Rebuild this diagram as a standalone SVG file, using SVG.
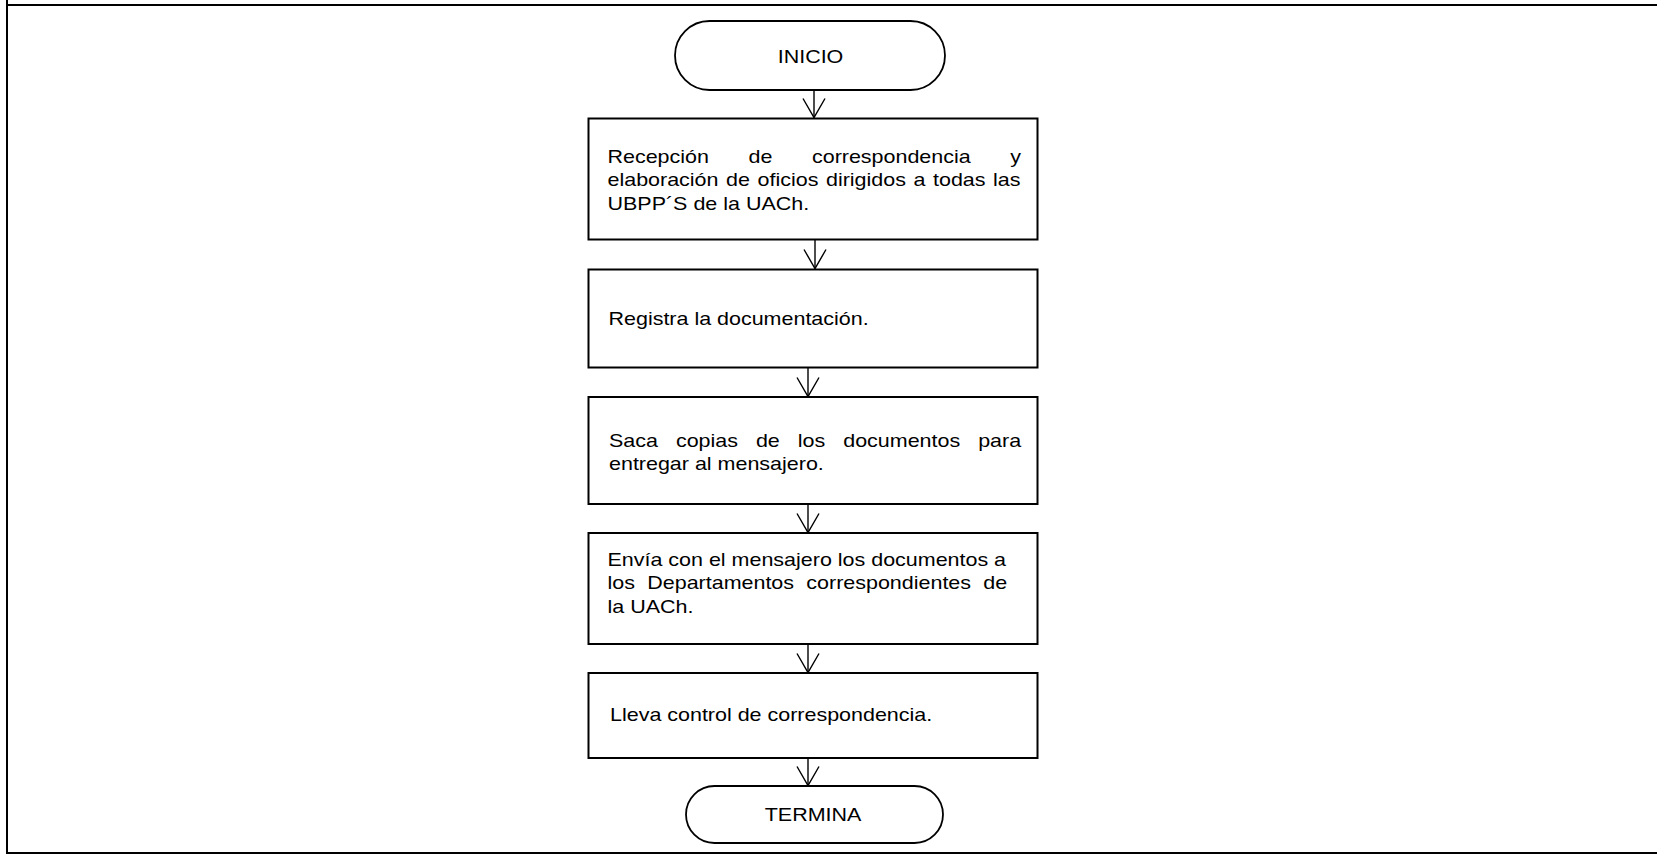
<svg xmlns="http://www.w3.org/2000/svg" width="1657" height="854" viewBox="0 0 1657 854">
  <style>
    .frame { stroke: #000; stroke-width: 2; fill: none; }
    .box { fill: #fff; stroke: #000; stroke-width: 2; }
    .term { fill: #fff; stroke: #000; stroke-width: 1.8; }
    .flow { stroke: #000; stroke-width: 1.4; fill: none; }
    .lbl { font-family: "Liberation Sans", Arial, sans-serif; font-size: 18.6px; fill: #000; }
  </style>
  <defs>
    <!-- open V arrowhead, drawn pointing along +x -->
    <marker id="vhead" markerUnits="userSpaceOnUse" viewBox="-21 -13 22 26" refX="0" refY="0" markerWidth="22" markerHeight="26" orient="auto">
      <path d="M -19 -11 L 0 0 L -19 11" fill="none" stroke="#000" stroke-width="1.4"/>
    </marker>
  </defs>

  <rect width="1657" height="854" fill="#fff"/>

  <!-- page frame -->
  <g id="frame">
    <line class="frame" x1="7" y1="0" x2="7" y2="854"/>
    <line class="frame" x1="6" y1="5" x2="1657" y2="5"/>
    <line class="frame" x1="6" y1="853" x2="1657" y2="853"/>
  </g>

  <!-- connectors -->
  <g id="connectors">
    <line class="flow" x1="814" y1="90" x2="814" y2="117.5" marker-end="url(#vhead)"/>
    <line class="flow" x1="815" y1="240" x2="815" y2="268.5" marker-end="url(#vhead)"/>
    <line class="flow" x1="808" y1="367" x2="808" y2="396.5" marker-end="url(#vhead)"/>
    <line class="flow" x1="808" y1="504" x2="808" y2="532.5" marker-end="url(#vhead)"/>
    <line class="flow" x1="808" y1="644" x2="808" y2="672.5" marker-end="url(#vhead)"/>
    <line class="flow" x1="808" y1="758" x2="808" y2="785.5" marker-end="url(#vhead)"/>
  </g>

  <g id="inicio">
    <rect class="term" x="675" y="21" width="270" height="69" rx="34.5" ry="34.5"/>
    <text class="lbl" text-anchor="middle" transform="translate(810.5,63.3) scale(1.155,1)">INICIO</text>
  </g>

  <g id="recepcion">
    <rect class="box" x="588.5" y="118.5" width="449" height="121"/>
    <text class="lbl" transform="translate(607.5,163) scale(1.155,1)">
      <tspan x="0" y="0" word-spacing="29.1">Recepción de correspondencia y</tspan>
      <tspan x="0" y="23.5" word-spacing="1.4">elaboración de oficios dirigidos a todas las</tspan>
      <tspan x="0" y="47">UBPP´S de la UACh.</tspan>
    </text>
  </g>

  <g id="registro">
    <rect class="box" x="588.5" y="269.5" width="449" height="98"/>
    <text class="lbl" transform="translate(608.5,325) scale(1.155,1)">Registra la documentación.</text>
  </g>

  <g id="copias">
    <rect class="box" x="588.5" y="397" width="449" height="107"/>
    <text class="lbl" transform="translate(609,447) scale(1.155,1)">
      <tspan x="0" y="0" word-spacing="10.4">Saca copias de los documentos para</tspan>
      <tspan x="0" y="23">entregar al mensajero.</tspan>
    </text>
  </g>

  <g id="envio">
    <rect class="box" x="588.5" y="533" width="449" height="111"/>
    <text class="lbl" transform="translate(607.5,566) scale(1.155,1)">
      <tspan x="0" y="0">Envía con el mensajero los documentos a</tspan>
      <tspan x="0" y="23.5" word-spacing="5.5">los Departamentos correspondientes de</tspan>
      <tspan x="0" y="47">la UACh.</tspan>
    </text>
  </g>

  <g id="control">
    <rect class="box" x="588.5" y="673" width="449" height="85"/>
    <text class="lbl" transform="translate(610,721) scale(1.155,1)">Lleva control de correspondencia.</text>
  </g>

  <g id="termina">
    <rect class="term" x="686" y="786" width="257" height="57" rx="28.5" ry="28.5"/>
    <text class="lbl" text-anchor="middle" transform="translate(813,821) scale(1.155,1)">TERMINA</text>
  </g>
</svg>
